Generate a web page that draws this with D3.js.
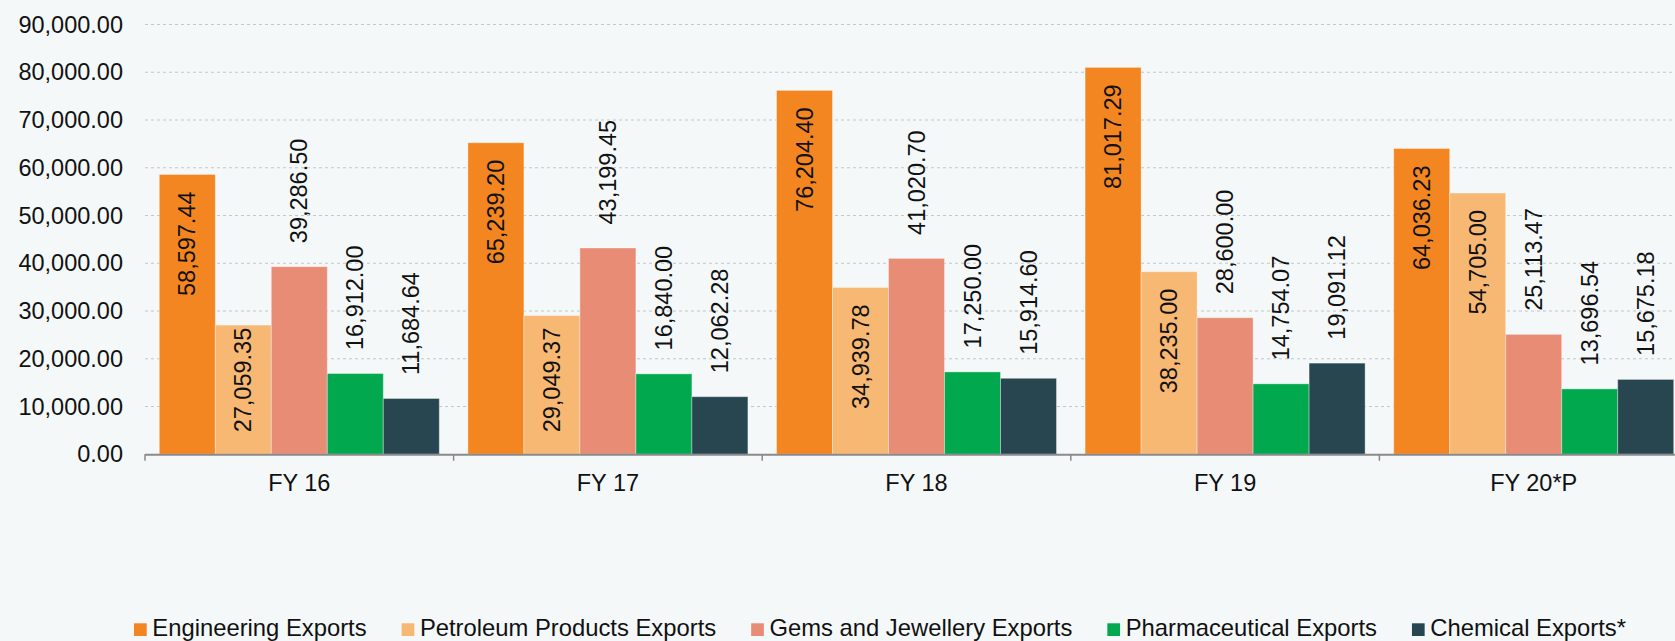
<!DOCTYPE html>
<html>
<head>
<meta charset="utf-8">
<script src="https://cdn.jsdelivr.net/npm/d3@7"></script>
<style>
html, body { margin: 0; padding: 0; background: #f4f8f9; }
svg { display: block; font-family: "Liberation Sans", Arial, Helvetica, sans-serif; }
</style>
</head>
<body>
<svg id="chart" width="1675" height="641"></svg>
<script>
const categories = ["FY 16", "FY 17", "FY 18", "FY 19", "FY 20*P"];
const seriesNames = ["Engineering Exports", "Petroleum Products Exports", "Gems and Jewellery Exports", "Pharmaceutical Exports", "Chemical Exports*"];
const engineering = [58597.44, 65239.20, 76204.40, 81017.29, 64036.23];
const petroleum = [27059.35, 29049.37, 34939.78, 38235.00, 54705.00];
const gems = [39286.50, 43199.45, 41020.70, 28600.00, 25113.47];
const pharma = [16912.00, 16840.00, 17250.00, 14754.07, 13696.54];
const chemical = [11684.64, 12062.28, 15914.60, 19091.12, 15675.18];
const colors = ["#f38620", "#f7b874", "#e88c76", "#02a84e", "#284650"];
const yTicks = [0, 10000, 20000, 30000, 40000, 50000, 60000, 70000, 80000, 90000];
const insideSeries = [true, true, false, false, false];

(function () {
const allSeries = [engineering, petroleum, gems, pharma, chemical];
const svg = d3.select("#chart");
const W = 1675, H = 641;
svg.append("rect").attr("width", W).attr("height", H).attr("fill", "#f4f8f9");

const leftX = 145, topY = 24.5, bottomY = 454.3;
const band = 308.6;
const fontSize = 23.5;

const x0 = d3.scaleBand().domain(categories).range([leftX, leftX + band * categories.length]).padding(0);
const x1 = d3.scaleBand().domain(seriesNames).range([14.3, band - 14.3]).padding(0);
const y = d3.scaleLinear().domain([0, 90000]).range([bottomY, topY]);

const fmt = d3.format(",.2f");

// gridlines
svg.append("g").selectAll("line").data(yTicks.filter(d => d > 0)).join("line")
  .attr("x1", leftX).attr("x2", W)
  .attr("y1", d => y(d)).attr("y2", d => y(d))
  .attr("stroke", "#c4c6c8").attr("stroke-width", 1).attr("stroke-dasharray", "3,3");

// y labels
svg.append("g").selectAll("text").data(yTicks).join("text")
  .attr("x", 123).attr("y", d => y(d))
  .attr("text-anchor", "end").attr("dominant-baseline", "central")
  .attr("font-size", fontSize).attr("fill", "#111")
  .text(d => fmt(d));

// bars
const groups = svg.append("g").selectAll("g").data(categories).join("g")
  .attr("transform", d => `translate(${x0(d)},0)`);

groups.each(function(cat, ci) {
  const g = d3.select(this);
  seriesNames.forEach((s, si) => {
    const v = allSeries[si][ci];
    g.append("rect")
      .attr("x", x1(s)).attr("width", x1.bandwidth())
      .attr("y", y(v)).attr("height", y(0) - y(v))
      .attr("fill", colors[si])
      .attr("stroke", "rgba(255,255,255,0.35)").attr("stroke-width", 1);
  });
});

// x axis
const xAxisG = svg.append("g");
xAxisG.append("line").attr("x1", leftX).attr("x2", W).attr("y1", bottomY + 0.5).attr("y2", bottomY + 0.5)
  .attr("stroke", "#8a8a8a").attr("stroke-width", 2);
const boundaries = categories.map(c => x0(c)).concat([x0(categories[categories.length - 1]) + band]);
xAxisG.selectAll("line.tick").data(boundaries).join("line").attr("class", "tick")
  .attr("x1", d => d).attr("x2", d => d).attr("y1", bottomY).attr("y2", bottomY + 6.5)
  .attr("stroke", "#8a8a8a").attr("stroke-width", 1.5);
xAxisG.selectAll("text").data(categories).join("text")
  .attr("x", d => x0(d) + band / 2).attr("y", 490.7)
  .attr("text-anchor", "middle").attr("font-size", fontSize).attr("fill", "#111")
  .text(d => d);

// data labels
groups.each(function(cat, ci) {
  const g = d3.select(this);
  seriesNames.forEach((s, si) => {
    const v = allSeries[si][ci];
    const cx = x1(s) + x1.bandwidth() / 2;
    const t = g.append("text")
      .attr("font-size", fontSize).attr("fill", "#111")
      .attr("dominant-baseline", "central")
      .text(fmt(v));
    const len = t.node().getComputedTextLength();
    const yt = y(v);
    if (insideSeries[si]) {
      const endY = Math.min(yt + 17, bottomY - 22 - len);
      t.attr("text-anchor", "end")
        .attr("transform", `translate(${cx},${endY}) rotate(-90)`);
    } else {
      t.attr("text-anchor", "start")
        .attr("transform", `translate(${cx},${yt - 23.5}) rotate(-90)`);
    }
  });
});

// legend
const leg = svg.append("g");
let lx = 134;
seriesNames.forEach((s, i) => {
  leg.append("rect").attr("x", lx).attr("y", 623.3).attr("width", 12.7).attr("height", 12.7).attr("fill", colors[i]);
  const t = leg.append("text").attr("x", lx + 18.3).attr("y", 635.7)
    .attr("font-size", 23.8).attr("fill", "#111").text(s);
  const len = t.node().getComputedTextLength();
  lx = lx + 18.3 + len + 35;
});
})();
</script>
</body>
</html>
